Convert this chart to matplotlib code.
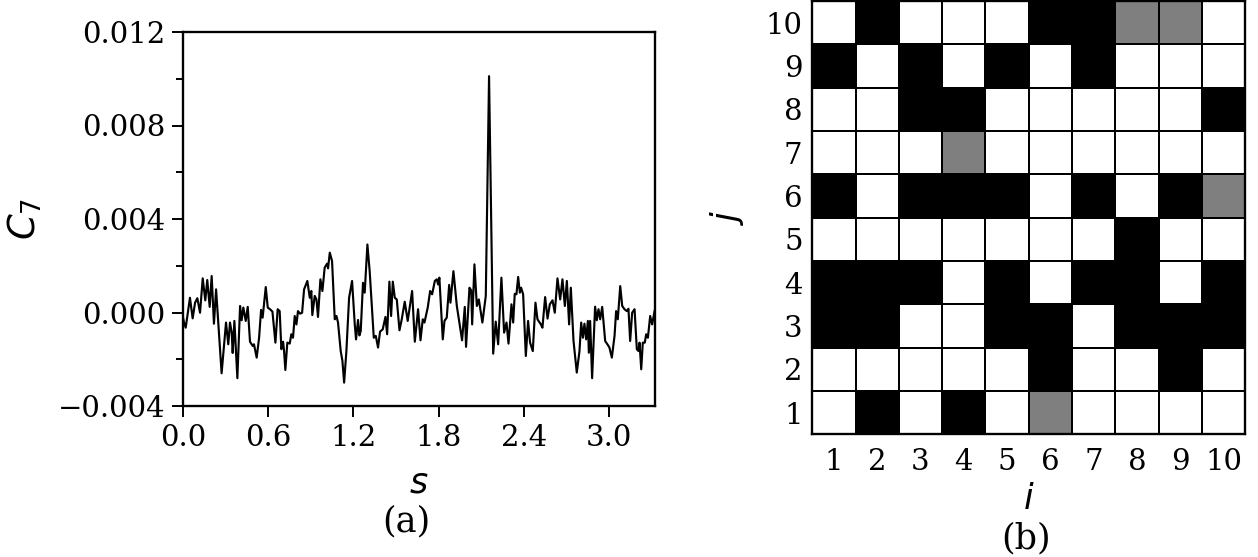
import numpy as np
import matplotlib
matplotlib.use("Agg")
import matplotlib.pyplot as plt

# ---------------- data ----------------
# panel (a): C_7 versus s  (C_7 values given in units of 1e-3)
s_vals = [0.000, 0.007, 0.019, 0.049, 0.068, 0.085, 0.101, 0.120, 0.139, 0.157, 0.171,
          0.188, 0.202, 0.218, 0.233, 0.272, 0.303, 0.319, 0.331, 0.343, 0.350,
          0.362, 0.383, 0.402, 0.413, 0.425, 0.442, 0.456, 0.472, 0.491, 0.500,
          0.519, 0.536, 0.550, 0.561, 0.583, 0.597, 0.613, 0.630, 0.651, 0.667,
          0.681, 0.693, 0.705, 0.712, 0.721, 0.735, 0.752, 0.763, 0.775, 0.787,
          0.799, 0.810, 0.825, 0.839, 0.853, 0.876, 0.893, 0.904, 0.911, 0.928,
          0.940, 0.951, 0.968, 0.982, 0.998, 1.015, 1.022, 1.034, 1.050, 1.069,
          1.081, 1.092, 1.111, 1.123, 1.135, 1.151, 1.170, 1.191, 1.210, 1.219,
          1.233, 1.243, 1.252, 1.268, 1.280, 1.299, 1.315, 1.332, 1.344, 1.358,
          1.374, 1.388, 1.407, 1.426, 1.438, 1.454, 1.466, 1.478, 1.492, 1.506,
          1.525, 1.541, 1.562, 1.583, 1.614, 1.633, 1.656, 1.673, 1.689, 1.701,
          1.724, 1.741, 1.755, 1.774, 1.788, 1.797, 1.806, 1.830, 1.842, 1.858,
          1.875, 1.884, 1.905, 1.929, 1.947, 1.966, 1.985, 1.994, 2.018, 2.030,
          2.037, 2.053, 2.070, 2.084, 2.109, 2.133, 2.156, 2.185, 2.203, 2.220,
          2.243, 2.262, 2.279, 2.293, 2.314, 2.326, 2.337, 2.349, 2.361, 2.373,
          2.382, 2.396, 2.415, 2.431, 2.445, 2.464, 2.483, 2.497, 2.521, 2.532,
          2.551, 2.568, 2.584, 2.603, 2.619, 2.638, 2.657, 2.673, 2.690, 2.704,
          2.720, 2.732, 2.751, 2.774, 2.793, 2.805, 2.817, 2.828, 2.840, 2.852,
          2.859, 2.868, 2.882, 2.903, 2.915, 2.927, 2.939, 2.953, 2.974, 2.993,
          3.004, 3.021, 3.040, 3.051, 3.063, 3.080, 3.094, 3.110, 3.127, 3.138,
          3.150, 3.164, 3.181, 3.197, 3.209, 3.216, 3.228, 3.239, 3.253, 3.263,
          3.275, 3.291, 3.305, 3.322]
c7_milli = [-0.20, -0.43, -0.65, 0.63, -0.25, 0.42, 0.61, -0.01, 1.46, 0.52, 1.39,
            0.24, 1.56, -0.48, 0.99, -2.60, -0.43, -1.36, -0.43, -0.86, -1.73,
            -0.36, -2.81, 0.28, -0.33, 0.21, -0.36, 0.24, -1.25, -1.43, -1.36,
            -1.93, -1.08, 0.11, -0.22, 1.09, 0.21, 0.14, 0.04, -1.29, 0.14,
            0.06, -1.57, -1.25, -1.65, -2.46, -1.29, -1.33, -0.93, -1.08, -0.15,
            -0.51, 0.06, -0.05, -0.01, 0.99, 1.35, 0.63, 0.92, -0.11, 0.71,
            0.56, -0.19, 1.42, 0.92, 1.92, 2.09, 1.89, 2.56, 2.20, -0.29,
            -0.15, -0.43, -1.65, -2.07, -3.00, -1.65, 0.63, 1.35, -0.51, -1.15,
            -0.32, -0.98, -0.79, 1.27, 0.85, 2.91, 1.77, 0.06, -1.08, -1.00,
            -1.50, -0.82, -0.72, -0.19, -0.93, 1.32, -0.15, 1.32, 0.63, 0.56,
            -0.76, -0.29, 0.46, -0.36, 0.92, -1.25, 0.14, -1.19, -0.29, -0.43,
            0.21, 0.92, 0.78, 1.35, 1.42, 1.20, 1.49, -1.15, -0.36, -0.22,
            1.18, 0.42, 1.77, 0.28, -0.43, -1.19, 0.24, -1.47, 1.06, 0.95,
            -0.51, 2.06, 0.28, 0.56, -0.43, 0.71, 10.11, -1.76, -0.39, -1.36,
            1.49, -0.86, -0.43, -1.33, 0.35, -0.43, 0.80, 0.78, 1.52, 0.85,
            1.06, 0.78, -1.86, -0.36, -1.29, -1.65, 0.42, -0.29, -0.51, -0.65,
            0.66, -0.26, 0.35, 0.52, -0.01, 1.46, 0.56, 1.42, 0.28, 1.35,
            -0.51, 1.06, -1.22, -2.57, -1.65, -0.43, -1.08, -0.48, -1.15, -0.36,
            -1.72, -0.36, -2.81, 0.25, -0.33, 0.14, -0.29, 0.24, -1.22, -1.39,
            -1.50, -1.93, -1.00, 0.06, -0.29, 1.13, 0.28, 0.14, 0.06, 0.16,
            -1.22, -0.01, 0.14, -1.57, -1.65, -1.29, -2.43, -1.29, -1.29, -0.93,
            -1.08, -0.15, -0.51, 0.06]

x_ticks_a = [0.0, 0.6, 1.2, 1.8, 2.4, 3.0]
y_ticks_a = [-0.004, 0.000, 0.004, 0.008, 0.012]

# panel (b): 10x10 grid, rows j = 1..10 (bottom to top), columns i = 1..10
# 0 = white, 1 = black, 0.5 = grey
grid_rows = [
    [0, 1, 0, 1, 0, 0.5, 0, 0, 0, 0],      # j = 1
    [0, 0, 0, 0, 0, 1, 0, 0, 1, 0],        # j = 2
    [1, 1, 0, 0, 1, 1, 0, 1, 1, 1],        # j = 3
    [1, 1, 1, 0, 1, 0, 1, 1, 0, 1],        # j = 4
    [0, 0, 0, 0, 0, 0, 0, 1, 0, 0],        # j = 5
    [1, 0, 1, 1, 1, 0, 1, 0, 1, 0.5],      # j = 6
    [0, 0, 0, 0.5, 0, 0, 0, 0, 0, 0],      # j = 7
    [0, 0, 1, 1, 0, 0, 0, 0, 0, 1],        # j = 8
    [1, 0, 1, 0, 1, 0, 1, 0, 0, 0],        # j = 9
    [0, 1, 0, 0, 0, 1, 1, 0.5, 0.5, 0],    # j = 10
]
grid_labels = [str(k) for k in range(1, 11)]

# ---------------- style ----------------
plt.rcParams['font.family'] = ['DejaVu Serif']
plt.rcParams['mathtext.fontset'] = 'dejavusans'

W, H, DPI = 1259, 557, 140
fig = plt.figure(figsize=(W / DPI, H / DPI), dpi=DPI)


def fmt(decimals):
    return matplotlib.ticker.FuncFormatter(
        lambda v, p: f"{v:.{decimals}f}".replace('-', '\u2212'))


# ---------------- panel (a) ----------------
ax1 = fig.add_axes([183 / W, (H - 406) / H, 472 / W, 374 / H])
ax1.plot(s_vals, np.array(c7_milli) * 1e-3, color='black', lw=1.1)
ax1.set_xlim(0, 3.325)
ax1.set_ylim(-0.004, 0.012)
ax1.set_xticks(x_ticks_a)
ax1.set_yticks(y_ticks_a)
ax1.set_yticks(np.arange(-0.004, 0.0121, 0.002), minor=True)
ax1.yaxis.set_major_formatter(fmt(3))
ax1.xaxis.set_major_formatter(fmt(1))
ax1.tick_params(axis='both', which='major', labelsize=15, length=5.5, width=1.0)
ax1.tick_params(axis='y', which='minor', length=3.5, width=1.0)
for sp in ax1.spines.values():
    sp.set_linewidth(1.2)
ax1.set_xlabel('$s$', fontsize=18, labelpad=7)
ax1.set_ylabel('$C_7$', fontsize=19, labelpad=7)
fig.text(406 / W, 1 - 521 / H, '(a)', ha='center', va='center', fontsize=18)

# ---------------- panel (b) ----------------
ax2 = fig.add_axes([812.3 / W, (H - 434.3) / H, 433 / W, 433.3 / H])
edges = np.arange(0.5, 11.0, 1.0)
ax2.pcolormesh(edges, edges, np.array(grid_rows), cmap='gray_r', vmin=0, vmax=1,
               edgecolors='black', linewidth=1.0)
ax2.set_xlim(0.5, 10.5)
ax2.set_ylim(0.5, 10.5)
ax2.set_xticks(range(1, 11))
ax2.set_yticks(range(1, 11))
ax2.set_xticklabels(grid_labels)
ax2.set_yticklabels(grid_labels)
ax2.tick_params(axis='both', length=0, labelsize=15)
ax2.tick_params(axis='x', pad=7)
ax2.tick_params(axis='y', pad=5)
for sp in ax2.spines.values():
    sp.set_linewidth(1.2)
ax2.set_xlabel('$i$', fontsize=18, labelpad=3)
ax2.set_ylabel('$j$', fontsize=18, labelpad=10)
fig.text(1026 / W, 1 - 538 / H, '(b)', ha='center', va='center', fontsize=18)

fig.savefig('out.png', dpi=DPI)
